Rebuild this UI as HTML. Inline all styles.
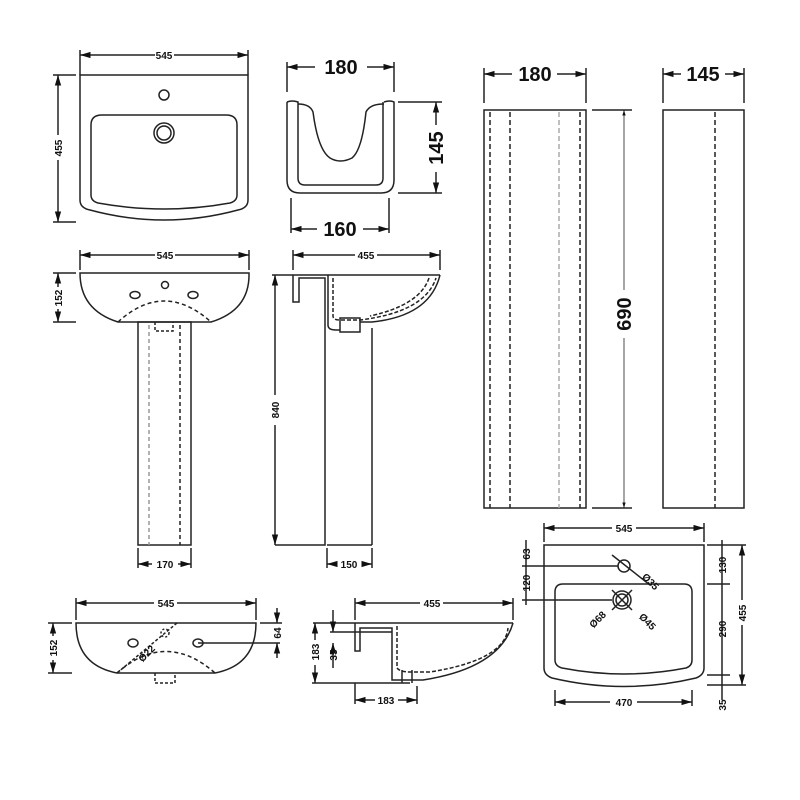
<!DOCTYPE html>
<html><head><meta charset="utf-8"><style>
html,body{margin:0;padding:0;background:#fff}
svg{display:block}
text{font-family:"Liberation Sans",sans-serif;font-weight:bold;fill:#111}
.s{font-size:10px}
.b{font-size:20px}
</style></head><body>
<svg width="800" height="800" viewBox="0 0 800 800" xmlns="http://www.w3.org/2000/svg">
<defs>
<marker id="a" viewBox="0 0 10 10" refX="10" refY="5" markerWidth="7" markerHeight="7" orient="auto-start-reverse"><path d="M0,2 L10,5 L0,8z" fill="#111"/></marker>
</defs>
<g stroke="#222" stroke-width="1.5" fill="none">
<!-- top-left basin plan -->
<path d="M80,75 H248 V200 Q248,208 238,210 Q164,230 90,210 Q80,208 80,200 Z"/>
<path d="M91,125 Q91,115 102,115 H226 Q237,115 237,125 V195 Q237,201 230,203 Q164,215 98,203 Q91,201 91,195 Z"/>
<circle cx="164" cy="95" r="5"/>
<circle cx="164" cy="133" r="10"/><circle cx="164" cy="133" r="7"/>
<line x1="80" y1="50" x2="80" y2="75"/><line x1="248" y1="50" x2="248" y2="75"/>
<line x1="80" y1="55" x2="155" y2="55" marker-start="url(#a)"/><line x1="174" y1="55" x2="248" y2="55" marker-end="url(#a)"/>
<line x1="53" y1="75" x2="76" y2="75"/><line x1="53" y1="222" x2="76" y2="222"/>
<line x1="58" y1="75" x2="58" y2="135" marker-start="url(#a)"/><line x1="58" y1="160" x2="58" y2="222" marker-end="url(#a)"/>

<!-- shroud -->
<path d="M287,102 V180 Q287,193 300,193 H381 Q394,193 394,180 V102 Q390,100 384,102"/>
<path d="M287,102 Q292,100 298,102 V178 Q298,185 305,185 H376 Q383,185 383,178 V102"/>
<path d="M298,104 Q310,104 313,112 Q318,150 330,158 Q340,164 352,158 Q362,150 366,112 Q370,104 384,104"/>
<line x1="287" y1="62" x2="287" y2="92"/><line x1="394" y1="62" x2="394" y2="92"/>
<line x1="287" y1="67" x2="315" y2="67" marker-start="url(#a)"/><line x1="367" y1="67" x2="394" y2="67" marker-end="url(#a)"/>
<line x1="398" y1="102" x2="442" y2="102"/><line x1="398" y1="193" x2="442" y2="193"/>
<line x1="436" y1="102" x2="436" y2="125" marker-start="url(#a)"/><line x1="436" y1="172" x2="436" y2="193" marker-end="url(#a)"/>
<line x1="291" y1="198" x2="291" y2="233"/><line x1="389" y1="198" x2="389" y2="233"/>
<line x1="291" y1="229" x2="317" y2="229" marker-start="url(#a)"/><line x1="363" y1="229" x2="389" y2="229" marker-end="url(#a)"/>

<!-- pedestal front -->
<path d="M80,273 H249 Q250,310 211,322 H118 Q80,310 80,273 Z"/>
<path d="M118,322 Q164,280 211,322" stroke-dasharray="4,3"/>
<ellipse cx="135" cy="295" rx="5" ry="3.5"/><ellipse cx="193" cy="295" rx="5" ry="3.5"/><circle cx="165" cy="285" r="3.5"/>
<rect x="138" y="322" width="53" height="223"/>
<line x1="149" y1="325" x2="149" y2="545" stroke="#999" stroke-dasharray="4,3"/>
<line x1="180" y1="325" x2="180" y2="545" stroke-dasharray="4,3"/>
<path d="M155,322 V331 H173 V322" stroke-dasharray="3,2"/>
<line x1="80" y1="250" x2="80" y2="270"/><line x1="249" y1="250" x2="249" y2="270"/>
<line x1="80" y1="255" x2="155" y2="255" marker-start="url(#a)"/><line x1="175" y1="255" x2="249" y2="255" marker-end="url(#a)"/>
<line x1="53" y1="273" x2="76" y2="273"/><line x1="53" y1="322" x2="76" y2="322"/>
<line x1="58" y1="273" x2="58" y2="287" marker-start="url(#a)"/><line x1="58" y1="309" x2="58" y2="322" marker-end="url(#a)"/>
<line x1="138" y1="548" x2="138" y2="568"/><line x1="191" y1="548" x2="191" y2="568"/>
<line x1="138" y1="564" x2="152" y2="564" marker-start="url(#a)"/><line x1="178" y1="564" x2="191" y2="564" marker-end="url(#a)"/>

<!-- pedestal side -->
<path d="M272,275 H440"/>
<path d="M293,275 V302 H299 V278 H325 V545 H275"/>
<path d="M328,275 V325 Q328,330 336,330 H340"/>
<path d="M333,278 V316 Q333,320 340,320 H360 Q425,312 436,278" stroke-dasharray="4,2"/>
<path d="M429,278 Q420,305 370,316" stroke-dasharray="4,2"/>
<path d="M340,318 H360 V332 H340 Z"/>
<path d="M360,322 H372 Q430,316 440,275"/>
<line x1="372" y1="328" x2="372" y2="545"/><line x1="327" y1="545" x2="372" y2="545"/>
<line x1="293" y1="250" x2="293" y2="270"/><line x1="440" y1="250" x2="440" y2="270"/>
<line x1="293" y1="255" x2="355" y2="255" marker-start="url(#a)"/><line x1="377" y1="255" x2="440" y2="255" marker-end="url(#a)"/>
<line x1="275" y1="275" x2="275" y2="395" marker-start="url(#a)"/><line x1="275" y1="425" x2="275" y2="545" marker-end="url(#a)"/>
<line x1="327" y1="548" x2="327" y2="568"/><line x1="372" y1="548" x2="372" y2="568"/>
<line x1="327" y1="564" x2="335" y2="564" marker-start="url(#a)"/><line x1="362" y1="564" x2="372" y2="564" marker-end="url(#a)"/>

<!-- column 180 -->
<rect x="484" y="110" width="102" height="398"/>
<line x1="490" y1="112" x2="490" y2="508" stroke-dasharray="5,3"/>
<line x1="510" y1="112" x2="510" y2="508" stroke-dasharray="5,3"/>
<line x1="559" y1="112" x2="559" y2="508" stroke="#aaa" stroke-dasharray="5,3"/>
<line x1="580" y1="112" x2="580" y2="508" stroke-dasharray="5,3"/>
<line x1="484" y1="68" x2="484" y2="103"/><line x1="586" y1="68" x2="586" y2="103"/>
<line x1="484" y1="74" x2="512" y2="74" marker-start="url(#a)"/><line x1="557" y1="74" x2="586" y2="74" marker-end="url(#a)"/>
<line x1="592" y1="110" x2="632" y2="110"/><line x1="592" y1="508" x2="632" y2="508"/>
<line x1="624" y1="110" x2="624" y2="290" stroke-width="0.8" marker-start="url(#a)"/><line x1="624" y1="338" x2="624" y2="508" stroke-width="0.8" marker-end="url(#a)"/>
<!-- column 145 -->
<rect x="663" y="110" width="81" height="398"/>
<line x1="715" y1="112" x2="715" y2="508" stroke-dasharray="5,3"/>
<line x1="663" y1="68" x2="663" y2="103"/><line x1="744" y1="68" x2="744" y2="103"/>
<line x1="663" y1="74" x2="681" y2="74" marker-start="url(#a)"/><line x1="725" y1="74" x2="744" y2="74" marker-end="url(#a)"/>

<!-- bottom left -->
<path d="M76,623 H256 Q256,665 215,673 H117 Q76,665 76,623 Z"/>
<path d="M117,673 Q166,630 215,673" stroke-dasharray="4,3"/>
<ellipse cx="133" cy="643" rx="5" ry="4"/><ellipse cx="198" cy="643" rx="5" ry="4"/>
<circle cx="165" cy="633" r="4" stroke-dasharray="2,2"/>
<line x1="117" y1="673" x2="177" y2="623" stroke-dasharray="3,2"/>
<path d="M155,673 V683 H175 V673" stroke-dasharray="3,2"/>
<line x1="198" y1="643" x2="280" y2="643"/>
<line x1="76" y1="598" x2="76" y2="620"/><line x1="256" y1="598" x2="256" y2="620"/>
<line x1="76" y1="603" x2="154" y2="603" marker-start="url(#a)"/><line x1="177" y1="603" x2="256" y2="603" marker-end="url(#a)"/>
<line x1="48" y1="623" x2="72" y2="623"/><line x1="48" y1="673" x2="72" y2="673"/>
<line x1="53" y1="623" x2="53" y2="636" marker-start="url(#a)"/><line x1="53" y1="660" x2="53" y2="673" marker-end="url(#a)"/>
<line x1="260" y1="623" x2="282" y2="623"/>
<line x1="277" y1="608" x2="277" y2="623" marker-end="url(#a)"/><line x1="277" y1="658" x2="277" y2="643" marker-end="url(#a)"/>

<!-- bottom side section -->
<path d="M313,623 H513"/>
<path d="M355,623 V651 H360 V628 H392 V680 H423 Q500,668 513,623"/>
<path d="M397,626 V668 Q400,672 410,672 H430 Q505,660 508,628" stroke-dasharray="4,2"/>
<path d="M312,683 H410"/>
<path d="M402,670 V683 M412,670 V683"/>
<line x1="355" y1="598" x2="355" y2="620"/><line x1="513" y1="598" x2="513" y2="620"/>
<line x1="355" y1="603" x2="420" y2="603" marker-start="url(#a)"/><line x1="443" y1="603" x2="513" y2="603" marker-end="url(#a)"/>
<line x1="315" y1="623" x2="315" y2="640" marker-start="url(#a)"/><line x1="315" y1="665" x2="315" y2="683" marker-end="url(#a)"/>
<line x1="333" y1="610" x2="333" y2="632" marker-end="url(#a)"/><line x1="333" y1="668" x2="333" y2="643" marker-end="url(#a)"/>
<line x1="330" y1="632" x2="392" y2="632"/>
<line x1="355" y1="683" x2="355" y2="704"/><line x1="417" y1="686" x2="417" y2="704"/>
<line x1="355" y1="700" x2="375" y2="700" marker-start="url(#a)"/><line x1="398" y1="700" x2="417" y2="700" marker-end="url(#a)"/>

<!-- bottom right plan -->
<path d="M544,545 H704 V668 Q704,675 696,678 Q624,695 552,678 Q544,675 544,668 Z"/>
<path d="M555,592 Q555,584 563,584 H684 Q692,584 692,592 V660 Q692,666 686,668 Q624,680 562,668 Q555,666 555,660 Z"/>
<circle cx="624" cy="566" r="6"/>
<line x1="612" y1="555" x2="650" y2="585"/>
<circle cx="622" cy="600" r="9"/><circle cx="622" cy="600" r="6"/>
<line x1="612" y1="590" x2="632" y2="610"/><line x1="632" y1="590" x2="612" y2="610"/>
<line x1="522" y1="566" x2="618" y2="566"/><line x1="522" y1="600" x2="612" y2="600"/>
<line x1="544" y1="523" x2="544" y2="542"/><line x1="704" y1="523" x2="704" y2="542"/>
<line x1="544" y1="528" x2="612" y2="528" marker-start="url(#a)"/><line x1="636" y1="528" x2="704" y2="528" marker-end="url(#a)"/>
<line x1="526" y1="540" x2="526" y2="605"/>
<line x1="707" y1="545" x2="746" y2="545"/><line x1="707" y1="584" x2="730" y2="584"/>
<line x1="707" y1="675" x2="730" y2="675"/><line x1="707" y1="685" x2="746" y2="685"/>
<line x1="722" y1="540" x2="722" y2="700"/>
<line x1="742" y1="545" x2="742" y2="600" marker-start="url(#a)"/><line x1="742" y1="625" x2="742" y2="685" marker-end="url(#a)"/>
<line x1="555" y1="690" x2="555" y2="706"/><line x1="692" y1="690" x2="692" y2="706"/>
<line x1="555" y1="702" x2="610" y2="702" marker-start="url(#a)"/><line x1="637" y1="702" x2="692" y2="702" marker-end="url(#a)"/>
</g>

<!-- labels -->
<text class="s" x="164" y="59" text-anchor="middle">545</text>
<text class="s" transform="translate(62,148) rotate(-90)" text-anchor="middle">455</text>
<text class="b" x="341" y="74" text-anchor="middle">180</text>
<text class="b" transform="translate(443,148) rotate(-90)" text-anchor="middle">145</text>
<text class="b" x="340" y="236" text-anchor="middle">160</text>
<text class="s" x="165" y="259" text-anchor="middle">545</text>
<text class="s" transform="translate(62,298) rotate(-90)" text-anchor="middle">152</text>
<text class="s" x="165" y="568" text-anchor="middle">170</text>
<text class="s" x="366" y="259" text-anchor="middle">455</text>
<text class="s" transform="translate(279,410) rotate(-90)" text-anchor="middle">840</text>
<text class="s" x="349" y="568" text-anchor="middle">150</text>
<text class="b" x="535" y="81" text-anchor="middle">180</text>
<text class="b" x="703" y="81" text-anchor="middle">145</text>
<text class="b" transform="translate(631,314) rotate(-90)" text-anchor="middle">690</text>
<text class="s" x="166" y="607" text-anchor="middle">545</text>
<text class="s" transform="translate(57,648) rotate(-90)" text-anchor="middle">152</text>
<text class="s" transform="translate(281,633) rotate(-90)" text-anchor="middle">64</text>
<text class="s" transform="translate(149,656) rotate(-45)" text-anchor="middle">Ø22</text>
<text class="s" x="432" y="607" text-anchor="middle">455</text>
<text class="s" transform="translate(319,652) rotate(-90)" text-anchor="middle">183</text>
<text class="s" transform="translate(337,655) rotate(-90)" text-anchor="middle">35</text>
<text class="s" x="386" y="704" text-anchor="middle">183</text>
<text class="s" x="624" y="532" text-anchor="middle">545</text>
<text class="s" transform="translate(530,554) rotate(-90)" text-anchor="middle">63</text>
<text class="s" transform="translate(530,583) rotate(-90)" text-anchor="middle">120</text>
<text class="s" transform="translate(648,584) rotate(45)" text-anchor="middle">Ø35</text>
<text class="s" transform="translate(600,622) rotate(-45)" text-anchor="middle">Ø68</text>
<text class="s" transform="translate(645,624) rotate(45)" text-anchor="middle">Ø45</text>
<text class="s" transform="translate(726,565) rotate(-90)" text-anchor="middle">130</text>
<text class="s" transform="translate(726,629) rotate(-90)" text-anchor="middle">290</text>
<text class="s" transform="translate(726,705) rotate(-90)" text-anchor="middle">35</text>
<text class="s" transform="translate(746,613) rotate(-90)" text-anchor="middle">455</text>
<text class="s" x="624" y="706" text-anchor="middle">470</text>
</svg>
</body></html>
